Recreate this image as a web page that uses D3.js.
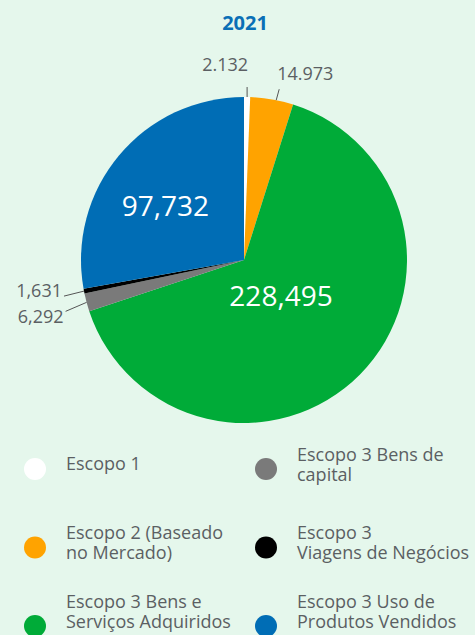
<!DOCTYPE html>
<html>
<head>
<meta charset="utf-8">
<script src="https://cdn.jsdelivr.net/npm/d3@7"></script>
<style>
  body { margin: 0; background: #e5f7ec; }
  svg { display: block; font-family: "Open Sans", sans-serif; }
</style>
</head>
<body>
<div id="wrapper"></div>
<script>
// chart data
const categories = [
    "Escopo 1",
    "Escopo 2 (Baseado no Mercado)",
    "Escopo 3 Bens e Serviços Adquiridos",
    "Escopo 3 Bens de capital",
    "Escopo 3 Viagens de Negócios",
    "Escopo 3 Uso de Produtos Vendidos"
]
const values = [2132, 14973, 228495, 6292, 1631, 97732]
const valueLabels = ["2.132", "14.973", "228,495", "6,292", "1,631", "97,732"]
const colors = ["#ffffff", "#ffa300", "#00ab38", "#7a7a7a", "#000000", "#006db5"]

// legend text, split into lines as in the original
const legendLines = [
    ["Escopo 1"],
    ["Escopo 2 (Baseado", "no Mercado)"],
    ["Escopo 3 Bens e", "Serviços Adquiridos"],
    ["Escopo 3 Bens de", "capital"],
    ["Escopo 3", "Viagens de Negócios"],
    ["Escopo 3 Uso de", "Produtos Vendidos"]
]

const dimensions = {
    width: 475,
    height: 635,
    cx: 244,
    cy: 260,
    radius: 163,
}

const textColor = "#5b5f63"

const svg = d3.select("#wrapper")
    .append("svg")
    .attr("width", dimensions.width)
    .attr("height", dimensions.height)

// title
svg.append("text")
    .attr("x", dimensions.cx + 1)
    .attr("y", 30)
    .attr("text-anchor", "middle")
    .attr("fill", "#0a6fb6")
    .style("font-size", "20px")
    .style("font-weight", "bold")
    .text("2021")

const pie = d3.pie().sort(null).value(d => d)
const arcs = pie(values)

const arc = d3.arc().innerRadius(0).outerRadius(dimensions.radius)

const bounds = svg.append("g")
    .attr("transform", `translate(${dimensions.cx},${dimensions.cy})`)

bounds.selectAll("path.slice")
    .data(arcs)
    .join("path")
    .attr("class", "slice")
    .attr("d", arc)
    .attr("fill", (d, i) => colors[i])

// inside labels for the two big slices: radius and angle nudge per slice
const insideLabels = [
    { index: 2, r: 52, shift: 0 },
    { index: 5, r: 95, shift: -0.1 },
]
insideLabels.forEach(l => {
    const a = arcs[l.index]
    const mid = (a.startAngle + a.endAngle) / 2 + l.shift
    bounds.append("text")
        .attr("x", l.r * Math.sin(mid))
        .attr("y", -l.r * Math.cos(mid))
        .attr("dy", "0.35em")
        .attr("text-anchor", "middle")
        .attr("fill", "white")
        .style("font-size", "28px")
        .text(valueLabels[l.index])
})

// outside labels with leader lines
// each: slice index, where on the slice the leader starts, leader offset, text offset
const outsideLabels = [
    { index: 0, frac: 0.5, dx: 0, dy: -10, anchor: "end", tdx: 1, tdy: -16 },
    { index: 1, frac: 0.6, dx: 3, dy: -11, anchor: "start", tdx: -2, tdy: -9 },
    { index: 3, frac: 0.5, dx: -21, dy: 9, anchor: "end", tdx: -2, tdy: 12 },
    { index: 4, frac: 0.5, dx: -20, dy: 5, anchor: "end", tdx: -2, tdy: 1 },
]
outsideLabels.forEach(l => {
    const a = arcs[l.index]
    const ang = a.startAngle + (a.endAngle - a.startAngle) * l.frac
    const x0 = dimensions.radius * Math.sin(ang)
    const y0 = -dimensions.radius * Math.cos(ang)
    const x1 = x0 + l.dx
    const y1 = y0 + l.dy
    bounds.append("line")
        .attr("x1", x0).attr("y1", y0)
        .attr("x2", x1).attr("y2", y1)
        .attr("stroke", "#555")
        .attr("stroke-width", 1)
    bounds.append("text")
        .attr("x", x1 + l.tdx)
        .attr("y", y1 + l.tdy)
        .attr("text-anchor", l.anchor)
        .attr("fill", textColor)
        .style("font-size", "18px")
        .text(valueLabels[l.index])
})

// legend: two columns, three rows
const legendCol = d3.scalePoint().domain([0, 1]).range([35, 266])
const legendRow = d3.scalePoint().domain([0, 1, 2]).range([469, 626])
// the text of each row sits a little differently against its dot
const rowTextTop = [-8, -9, -18]

const legend = svg.append("g")
const items = legend.selectAll("g")
    .data(categories)
    .join("g")
    .attr("transform", (d, i) => `translate(${legendCol(Math.floor(i / 3))},${legendRow(i % 3)})`)

items.append("circle")
    .attr("r", 11)
    .attr("fill", (d, i) => colors[i])

items.append("text")
    .attr("x", 31)
    .attr("fill", textColor)
    .style("font-size", "18px")
    .each(function (d, i) {
        const lines = legendLines[i]
        const t = d3.select(this)
        const top = lines.length === 1 ? 1 : rowTextTop[i % 3]
        lines.forEach((line, j) => {
            t.append("tspan")
                .attr("x", 31)
                .attr("y", top + j * 20)
                .text(line)
        })
    })
</script>
</body>
</html>
